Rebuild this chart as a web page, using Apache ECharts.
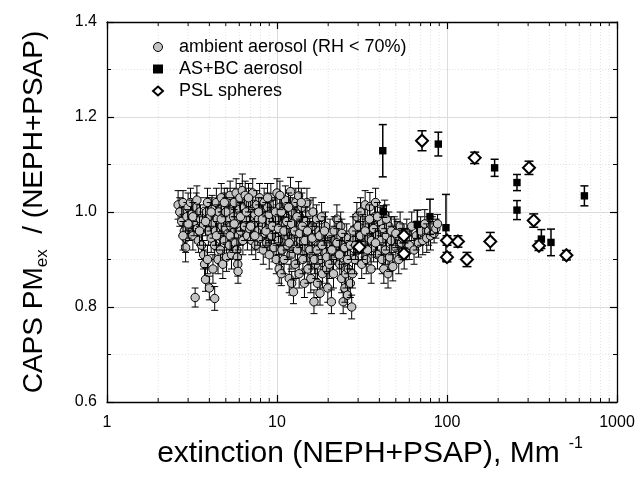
<!DOCTYPE html>
<html>
<head>
<meta charset="utf-8">
<script src="https://cdn.jsdelivr.net/npm/echarts@6/dist/echarts.min.js"></script>
<style>
html,body{margin:0;padding:0;background:#fff;}
#chart{width:640px;height:477px;}
</style>
</head>
<body>
<div id="chart"></div>
<script>
// ---- Data: [extinction (Mm^-1), ratio, error] ----
const ambient = [
[2.62,1.015,0.03],[2.68,1.0,0.03],[2.75,0.98,0.03],[2.8,1.02,0.025],[2.85,0.96,0.03],[2.9,0.945,0.03],[2.95,0.99,0.03],[3.0,1.01,0.03],[2.9,0.925,0.03],[3.05,0.97,0.03],
[3.1,1.02,0.03],[3.15,0.995,0.03],[3.2,0.95,0.03],[3.25,0.98,0.03],[3.3,0.82,0.02],[3.35,1.01,0.03],[3.4,0.965,0.03],[3.45,0.94,0.025],[3.5,1.0,0.03],[3.55,0.985,0.03],[3.6,0.93,0.03],[3.38,1.025,0.03],
[3.65,0.97,0.03],[3.7,0.91,0.03],[3.75,0.89,0.03],[3.8,0.858,0.025],[3.85,1.0,0.03],[3.9,1.02,0.03],[3.95,0.96,0.03],[4.0,0.84,0.025],[4.05,0.99,0.03],[4.1,0.945,0.03],[4.15,1.005,0.03],[4.2,0.975,0.03],[4.3,0.818,0.025],[4.3,0.93,0.03],[4.35,0.96,0.03],[4.4,1.02,0.03],[4.45,0.985,0.03],[4.5,0.9,0.03],[3.9,0.9,0.03],[4.2,0.88,0.03],
[4.55,1.0,0.03],[4.6,0.95,0.03],[4.65,0.92,0.03],[4.7,1.03,0.03],[4.75,0.97,0.03],[4.8,0.89,0.03],[4.85,0.99,0.03],[4.9,0.94,0.03],[4.95,1.01,0.03],[5.0,0.965,0.03],[5.05,0.905,0.03],[5.1,1.02,0.03],[5.15,0.955,0.03],[5.2,0.985,0.03],[5.25,0.93,0.03],[5.3,1.035,0.03],[5.35,0.97,0.03],[5.4,0.91,0.03],[5.45,1.0,0.03],[5.5,0.945,0.03],
[5.55,0.99,0.03],[5.6,1.02,0.03],[5.65,0.96,0.03],[5.7,0.935,0.03],[5.75,1.04,0.03],[5.8,0.92,0.03],[5.85,0.905,0.025],[5.88,0.89,0.025],[5.9,0.875,0.025],[5.92,0.95,0.03],[5.95,0.975,0.03],[6.0,1.005,0.03],[6.05,1.03,0.03],[6.1,0.96,0.03],[6.2,0.99,0.03],[6.25,1.045,0.035],[6.3,0.94,0.03],[6.4,1.01,0.03],[6.45,0.97,0.03],
[6.5,1.035,0.03],[6.6,0.985,0.03],[6.7,0.95,0.03],[6.8,1.02,0.03],[6.9,0.965,0.03],[7.0,1.0,0.03],[7.1,0.94,0.03],[7.2,1.04,0.03],[7.3,0.975,0.03],[7.4,0.995,0.03],[7.5,0.93,0.03],[7.6,1.015,0.03],[7.7,0.96,0.03],[7.8,0.985,0.03],[7.9,1.03,0.03],[8.0,0.945,0.03],
[8.1,1.0,0.03],[8.2,0.97,0.03],[8.3,0.92,0.03],[8.4,1.02,0.03],[8.5,0.955,0.03],[8.6,0.99,0.03],[8.7,0.935,0.03],[8.8,1.01,0.03],[8.9,0.965,0.03],[9.0,0.91,0.03],[9.1,0.98,0.03],[9.2,1.03,0.03],[9.3,0.95,0.03],[9.5,0.995,0.03],[9.6,0.925,0.03],[9.8,0.97,0.03],[9.9,0.9,0.03],
[10.0,1.04,0.03],[10.1,0.985,0.03],[10.2,0.94,0.03],[10.3,0.88,0.03],[10.4,1.01,0.03],[10.5,0.96,0.03],[10.6,0.87,0.025],[10.7,0.92,0.03],[10.8,1.0,0.03],[10.9,0.975,0.03],[11.0,0.9,0.03],[11.2,1.025,0.03],[11.3,0.95,0.03],[11.5,0.93,0.03],[11.6,0.99,0.03],[11.8,0.86,0.03],[11.9,0.965,0.03],[12.0,1.043,0.03],[12.1,0.91,0.03],[12.2,0.85,0.025],[12.3,1.0,0.03],[12.4,0.945,0.03],[12.5,0.832,0.025],[12.6,0.98,0.03],[12.8,0.89,0.03],[12.9,1.02,0.03],[13.0,0.955,0.03],
[13.2,0.92,0.03],[13.4,1.034,0.03],[13.5,0.87,0.03],[13.6,0.99,0.03],[13.8,0.94,0.03],[14.0,1.01,0.03],[14.2,0.9,0.03],[14.3,0.96,0.03],[14.5,0.85,0.03],[14.7,0.98,0.03],[14.9,0.925,0.03],[15.0,1.02,0.03],[15.2,0.88,0.03],[15.4,0.95,0.03],[15.6,0.995,0.03],[15.8,0.86,0.03],[16.0,0.91,0.03],[16.2,0.97,0.03],[16.3,1.0,0.03],[16.5,0.811,0.025],[16.7,0.94,0.03],[16.9,0.89,0.03],
[17.1,0.985,0.03],[17.3,0.85,0.03],[17.5,0.93,0.03],[17.7,0.96,0.03],[17.9,0.829,0.025],[18.1,0.9,0.03],[18.3,0.99,0.03],[18.5,0.87,0.03],[18.8,0.945,0.03],[19.0,0.915,0.03],[19.3,0.97,0.03],[19.6,0.88,0.03],[19.9,0.84,0.03],[20.2,0.93,0.03],[20.5,0.955,0.03],[20.9,0.811,0.025],[21.2,0.9,0.03],[21.5,0.87,0.03],[21.8,0.94,0.03],
[22.2,0.96,0.03],[22.5,0.985,0.03],[22.8,0.92,0.03],[23.1,0.95,0.03],[23.4,0.89,0.03],[23.7,0.97,0.03],[24.0,0.86,0.03],[24.3,0.93,0.03],[24.5,0.811,0.025],[24.8,0.9,0.03],[25.1,0.84,0.03],[25.4,0.87,0.03],[25.7,0.945,0.03],[26.0,0.825,0.025],[26.3,0.88,0.03],[26.6,0.91,0.03],[27.0,0.85,0.03],[27.5,0.80,0.025],[27.8,0.87,0.03],[28.2,0.94,0.03],[28.6,0.9,0.03],[29.0,0.965,0.03],
[29.5,0.99,0.03],[30.0,0.92,0.03],[30.5,0.95,0.03],[31.0,1.0,0.03],[31.5,0.89,0.03],[32.0,0.965,0.03],[32.5,0.935,0.03],[33.0,1.015,0.03],[33.5,0.9,0.03],[34.0,0.975,0.03],[34.5,0.945,0.03],[35.2,1.011,0.03],[35.8,0.88,0.03],[36.5,0.96,0.03],[37.0,0.925,0.03],[37.5,0.99,0.03],[38.0,1.02,0.03],[38.5,0.95,0.03],[39.0,0.91,0.03],[39.5,0.97,0.03],
[40.5,0.98,0.03],[41.0,0.94,0.03],[41.5,0.9,0.03],[42.0,0.965,0.03],[42.5,0.88,0.03],[43.0,0.995,0.03],[43.5,0.92,0.03],[44.0,0.95,0.03],[45.0,0.87,0.03],[45.5,0.97,0.03],[46.0,0.905,0.03],[47.0,0.94,0.03],[48.0,0.885,0.03],[49.0,0.96,0.03],[50.0,0.925,0.03],[51.0,0.95,0.03],[52.0,0.9,0.03],[53.0,0.97,0.03],[54.0,0.935,0.03],[56.0,0.91,0.03],[58.0,0.955,0.03],[60.0,0.93,0.03],[62.0,0.97,0.03],[64.0,0.92,0.03],[66.0,0.95,0.03],[68.0,0.935,0.03],[70.0,0.96,0.03],[72.0,0.94,0.03],[74.0,0.975,0.03],[76.0,0.945,0.03],[78.0,0.96,0.03],[80.0,0.95,0.03],[82.0,0.97,0.02],[84.0,0.955,0.02],[86.0,0.965,0.02],[88.0,0.975,0.02],
[3.2,0.99,0.03],[3.5,0.96,0.03],[3.8,0.98,0.03],[4.1,1.0,0.03],[4.4,0.95,0.03],[4.7,0.985,0.03],[5.0,1.0,0.03],[5.3,0.95,0.03],[5.6,0.975,0.03],[6.1,0.99,0.03],[6.6,1.0,0.03],[7.0,0.97,0.03],[7.4,0.95,0.03],[7.8,1.0,0.03],[8.2,0.985,0.03],[8.6,0.96,0.03],[9.0,0.995,0.03],[9.4,0.97,0.03],[9.8,1.0,0.03],[10.2,0.965,0.03],[10.6,1.0,0.03],[11.0,0.96,0.03],[11.4,0.98,0.03],[11.8,0.935,0.03],[12.2,0.975,0.03],[12.7,0.96,0.03],[13.1,0.99,0.03],[13.6,0.955,0.03],[14.1,0.97,0.03],[14.6,0.94,0.03],[15.1,0.96,0.03],[15.6,0.92,0.03],[16.1,0.945,0.03],[16.6,0.9,0.03],[17.2,0.92,0.03],[17.8,0.95,0.03],[18.4,0.93,0.03],[19.0,0.96,0.03],[19.6,0.905,0.03],[20.3,0.89,0.03],[21.0,0.92,0.03],[21.7,0.96,0.03],[22.5,0.935,0.03],[23.3,0.91,0.03],[24.1,0.955,0.03],[25.0,0.925,0.03],[26.0,0.9,0.03],[27.0,0.93,0.03],[28.0,0.96,0.03],[29.0,0.93,0.03],[30.0,0.97,0.03],[31.0,0.95,0.03],[32.0,0.93,0.03],[33.0,0.96,0.03],[34.0,0.92,0.03],[35.0,0.985,0.03],[36.0,0.94,0.03],[37.0,0.965,0.03],[38.0,0.935,0.03],[39.0,0.99,0.03],[44.0,0.985,0.03],[47.0,0.96,0.03],[50.0,0.955,0.03],[55.0,0.945,0.03],[3.0,0.975,0.03],[2.8,0.95,0.03],[4.9,1.02,0.03],[6.8,1.03,0.03],[8.8,1.03,0.03],[10.4,1.035,0.03],[11.7,1.01,0.03],[13.9,1.02,0.03]
];
const asbc = [
[41.9,1.129,0.055],[88.9,1.143,0.025],[190.6,1.093,0.018],[258,1.062,0.017],[258,1.004,0.02],
[359,0.943,0.02],[409,0.936,0.028],[643,1.034,0.021],[98.6,0.967,0.07],[79.4,0.990,0.037],
[66.9,0.974,0.03],[42.2,1.001,0.012]
];
const psl = [
[71.3,1.150,0.021],[145.5,1.114,0.012],[303.6,1.093,0.014],[323.6,0.982,0.014],[347.6,0.929,0.01],
[504,0.909,0.01],[179.8,0.938,0.019],[131,0.900,0.015],[116,0.938,0.012],[100,0.940,0.01],
[100,0.905,0.01],[55.8,0.950,0.015],[55.8,0.912,0.012],[30.5,0.926,0.012]
];
const xMinorTicks = [2,3,4,5,6,7,8,9,20,30,40,50,60,70,80,90,200,300,400,500,600,700,800,900];
const seriesNames = ['ambient aerosol (RH < 70%)','AS+BC aerosol','PSL spheres'];

const FONT = '"Liberation Sans", Arial, sans-serif';

function errRender(opt) {
  return function (params, api) {
    const x = api.value(0), y = api.value(1), e = api.value(2);
    const c = api.coord([x, y]);
    const t = api.coord([x, y + e]);
    const b = api.coord([x, y - e]);
    const hw = opt.cap / 2;
    const ls = { stroke: '#000', lineWidth: opt.lw };
    const children = [
      { type: 'line', shape: { x1: c[0], y1: t[1], x2: c[0], y2: b[1] }, style: ls },
      { type: 'line', shape: { x1: c[0] - hw, y1: t[1], x2: c[0] + hw, y2: t[1] }, style: ls },
      { type: 'line', shape: { x1: c[0] - hw, y1: b[1], x2: c[0] + hw, y2: b[1] }, style: ls }
    ];
    if (opt.kind === 'circle') {
      children.push({ type: 'circle', shape: { cx: c[0], cy: c[1], r: 4.2 }, style: { fill: '#c4c4c4', stroke: '#000', lineWidth: 1 } });
    } else if (opt.kind === 'square') {
      children.push({ type: 'rect', shape: { x: c[0] - 3.7, y: c[1] - 3.7, width: 7.4, height: 7.4 }, style: { fill: '#000' } });
    } else {
      const s = 6;
      children.push({ type: 'polygon', shape: { points: [[c[0], c[1] - s], [c[0] + s, c[1]], [c[0], c[1] + s], [c[0] - s, c[1]]] }, style: { fill: '#fff', stroke: '#000', lineWidth: 2 } });
    }
    return { type: 'group', children: children };
  };
}

const chart = echarts.init(document.getElementById('chart'), null, { renderer: 'canvas' });
const option = {
  animation: false,
  backgroundColor: '#fff',
  textStyle: { fontFamily: FONT },
  grid: { left: 107, right: 23, top: 22, bottom: 75 },
  legend: {
    orient: 'vertical', left: 147, top: 33, itemGap: 4, itemWidth: 10, itemHeight: 9,
    textStyle: { fontFamily: FONT, fontSize: 18, color: '#000', padding: [0, 0, 0, 11] },
    selectedMode: false,
    data: [
      { name: seriesNames[0], icon: 'circle', itemStyle: { color: '#c4c4c4', borderColor: '#000', borderWidth: 1 } },
      { name: seriesNames[1], icon: 'rect', itemStyle: { color: '#000', borderWidth: 0 } },
      { name: seriesNames[2], icon: 'diamond', itemStyle: { color: '#fff', borderColor: '#000', borderWidth: 2 } }
    ]
  },
  xAxis: [{
    type: 'log', logBase: 10, min: 1, max: 1000,
    name: '{t|extinction (NEPH+PSAP), Mm}{p|  -1}', nameLocation: 'middle', nameGap: 33,
    nameTextStyle: { padding: [0, 0, 0, 16], rich: {
      t: { fontFamily: FONT, fontSize: 30, color: '#000', lineHeight: 36 },
      p: { fontFamily: FONT, fontSize: 16, color: '#000', lineHeight: 16, verticalAlign: 'top' }
    } },
    axisLine: { show: true, lineStyle: { color: '#000', width: 1.3 } },
    axisTick: { show: true, inside: true, length: 7, lineStyle: { color: '#000', width: 1.2 } },
    axisLabel: { fontFamily: FONT, fontSize: 16, color: '#000', margin: 13, formatter: v => String(Math.round(v)) },
    splitLine: { show: true, lineStyle: { color: '#dcdcdc', width: 1 } }
  }, {
    type: 'log', logBase: 10, min: 1, max: 1000, position: 'top',
    axisLine: { show: true, lineStyle: { color: '#000', width: 1.3 } },
    axisTick: { show: true, inside: true, length: 7, lineStyle: { color: '#000', width: 1.2 } },
    axisLabel: { show: false }, splitLine: { show: false }
  }],
  yAxis: [{
    type: 'value', min: 0.6, max: 1.4, interval: 0.2,
    name: '{t|CAPS PM}{s|ex}{t|  / (NEPH+PSAP)}', nameLocation: 'middle', nameGap: 56, nameRotate: 90,
    nameTextStyle: { rich: {
      t: { fontFamily: FONT, fontSize: 28, color: '#000', lineHeight: 34 },
      s: { fontFamily: FONT, fontSize: 17, color: '#000', lineHeight: 12, verticalAlign: 'bottom' }
    } },
    axisLine: { show: true, lineStyle: { color: '#000', width: 1.3 } },
    axisTick: { show: true, inside: true, length: 7, lineStyle: { color: '#000', width: 1.2 } },
    minorTick: { show: true, splitNumber: 2, length: 4, lineStyle: { color: '#000', width: 1 } },
    axisLabel: { fontFamily: FONT, fontSize: 16, color: '#000', margin: 10, formatter: v => v.toFixed(1) },
    splitLine: { show: true, lineStyle: { color: '#dcdcdc', width: 1 } },
    minorSplitLine: { show: true, lineStyle: { color: '#e2e2e2', width: 1, type: [1, 2] } }
  }, {
    type: 'value', min: 0.6, max: 1.4, interval: 0.2, position: 'right',
    axisLine: { show: true, lineStyle: { color: '#000', width: 1.3 } },
    axisTick: { show: true, inside: true, length: 7, lineStyle: { color: '#000', width: 1.2 } },
    minorTick: { show: true, splitNumber: 2, length: 4, lineStyle: { color: '#000', width: 1 } },
    axisLabel: { show: false }, splitLine: { show: false }
  }],
  series: [
    {
      type: 'custom', silent: true, z: 1,
      data: xMinorTicks.map(v => [v]),
      encode: { x: 0 },
      renderItem: function (params, api) {
        const v = api.value(0);
        const b = api.coord([v, 0.6]);
        const t = api.coord([v, 1.4]);
        return { type: 'group', children: [
          { type: 'line', shape: { x1: b[0], y1: b[1], x2: t[0], y2: t[1] }, style: { stroke: '#e2e2e2', lineWidth: 1, lineDash: [1, 2] } },
          { type: 'line', shape: { x1: b[0], y1: b[1], x2: b[0], y2: b[1] - 4 }, style: { stroke: '#000', lineWidth: 1 } },
          { type: 'line', shape: { x1: t[0], y1: t[1], x2: t[0], y2: t[1] + 4 }, style: { stroke: '#000', lineWidth: 1 } }
        ] };
      }
    },
    { name: seriesNames[0], type: 'custom', z: 3, data: ambient, encode: { x: 0, y: 1 }, renderItem: errRender({ kind: 'circle', cap: 7, lw: 1 }) },
    { name: seriesNames[1], type: 'custom', z: 4, data: asbc, encode: { x: 0, y: 1 }, renderItem: errRender({ kind: 'square', cap: 8, lw: 1.5 }) },
    { name: seriesNames[2], type: 'custom', z: 4, data: psl, encode: { x: 0, y: 1 }, renderItem: errRender({ kind: 'diamond', cap: 9, lw: 1.5 }) }
  ]
};
chart.setOption(option);
</script>
</body>
</html>
